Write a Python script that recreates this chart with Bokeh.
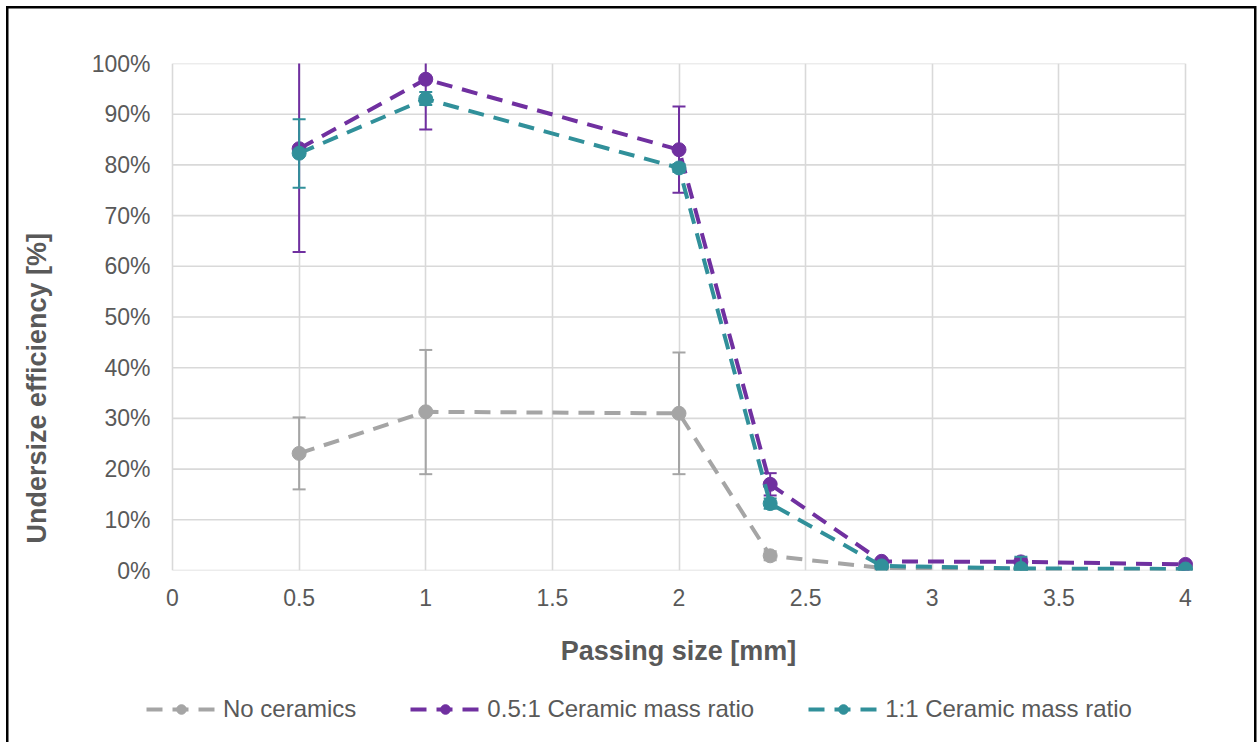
from bokeh.plotting import figure
from bokeh.layouts import column
from bokeh.models import (Legend, LegendItem, FixedTicker, PrintfTickFormatter,
                          Range1d)
from bokeh.embed import file_html
from bokeh.resources import INLINE

# Passing sizes [mm]
sizes = [0.5, 1, 2, 2.36, 2.8, 3.35, 4]

# Undersize efficiency [%] and error-bar limits per series
no_ceramics = [23.1, 31.3, 31.0, 2.9, 0.5, 0.3, 0.3]
no_ceramics_lo = [16.0, 19.0, 19.0, 2.0, 0.3, 0.1, 0.2]
no_ceramics_hi = [30.2, 43.5, 43.0, 3.8, 0.7, 0.5, 0.4]

ratio_05 = [83.2, 96.9, 83.0, 17.0, 1.8, 1.7, 1.2]
ratio_05_lo = [62.8, 87.0, 74.5, 14.8, 1.5, 1.0, 1.0]
ratio_05_hi = [103.6, 106.8, 91.5, 19.2, 2.1, 2.4, 1.4]

ratio_1 = [82.3, 93.0, 79.4, 13.2, 0.9, 0.4, 0.3]
ratio_1_lo = [75.5, 91.8, 78.6, 12.2, 0.6, 0.0, 0.2]
ratio_1_hi = [89.0, 94.4, 80.2, 14.2, 1.2, 2.7, 0.4]

x_ticks = [0, 0.5, 1, 1.5, 2, 2.5, 3, 3.5, 4]
x_tick_labels = ["0", "0.5", "1", "1.5", "2", "2.5", "3", "3.5", "4"]
y_ticks = [0, 10, 20, 30, 40, 50, 60, 70, 80, 90, 100]

series = [
    ("No ceramics", no_ceramics, no_ceramics_lo, no_ceramics_hi, "#A5A5A5"),
    ("0.5:1 Ceramic mass ratio", ratio_05, ratio_05_lo, ratio_05_hi, "#7030A0"),
    ("1:1 Ceramic mass ratio", ratio_1, ratio_1_lo, ratio_1_hi, "#31909A"),
]

FONT = "Liberation Sans"
TEXT = "#595959"
GRID = "#D9D9D9"
LINE_DASH = "16 10"

# thin black frame around the whole chart (left, top and right edges)
frame_css = {
    "background-color": "white",
    "background-image": ("linear-gradient(black, black), "
                         "linear-gradient(black, black), "
                         "linear-gradient(black, black)"),
    "background-size": "2.5px 100%, 1250px 2.5px, 2.5px 100%",
    "background-position": "6px 6px, 6px 6px, 1253.5px 6px",
    "background-repeat": "no-repeat",
}

# The data area spans x = 0..4 over 1013 px; the frame is widened a little on
# both sides (grid lines stay within 0..4) so the legend strip can start left
# of x = 0 and the last tick label keeps room.
PLOT_W = 1013
LEFT_PAD = 26
RIGHT_PAD = 25
px = (x_ticks[-1] - x_ticks[0]) / PLOT_W
BORDER_L = 172 - LEFT_PAD
BORDER_R = 72 - RIGHT_PAD

# ---- main chart ----
p = figure(width=1257, height=690, output_backend="svg", toolbar_location=None,
           x_range=Range1d(x_ticks[0] - LEFT_PAD * px, x_ticks[-1] + RIGHT_PAD * px),
           y_range=Range1d(0, 100),
           min_border_left=BORDER_L, min_border_right=BORDER_R,
           min_border_top=63, min_border_bottom=120)
p.outline_line_color = None
p.background_fill_color = "white"
p.border_fill_alpha = 0

p.xgrid.grid_line_color = GRID
p.xgrid.grid_line_width = 1.6
p.ygrid.visible = False
p.segment(x0=[x_ticks[0]] * len(y_ticks), y0=y_ticks,
          x1=[x_ticks[-1]] * len(y_ticks), y1=y_ticks,
          line_color=GRID, line_width=1.6)

p.xaxis.ticker = FixedTicker(ticks=x_ticks)
p.yaxis.ticker = FixedTicker(ticks=y_ticks)
p.xaxis.major_label_overrides = {t: l for t, l in zip(x_ticks, x_tick_labels)}
p.yaxis.formatter = PrintfTickFormatter(format="%d%%")

for ax in (p.xaxis, p.yaxis):
    ax.axis_line_color = None
    ax.major_tick_line_color = None
    ax.minor_tick_line_color = None
    ax.major_tick_out = 0
    ax.major_tick_in = 0
    ax.major_label_text_font = FONT
    ax.major_label_text_font_size = "23px"
    ax.major_label_text_color = TEXT
    ax.axis_label_text_font = FONT
    ax.axis_label_text_font_size = "27px"
    ax.axis_label_text_font_style = "bold"
    ax.axis_label_text_color = TEXT

p.xaxis.axis_label = "Passing size [mm]"
# the y title sits below the middle of the axis: trailing no-break spaces
# lengthen the centred label at its upper end
p.yaxis.axis_label = "Undersize efficiency [%]" + "\u00a0" * 19
p.xaxis.major_label_standoff = 18
p.yaxis.major_label_standoff = 22 - LEFT_PAD
p.xaxis.axis_label_standoff = 27
p.yaxis.axis_label_standoff = 37

for name, vals, lo, hi, color in series:
    p.line(sizes, vals, line_color=color, line_width=4, line_dash=LINE_DASH)
    p.segment(x0=sizes, y0=lo, x1=sizes, y1=hi, line_color=color, line_width=2)
    p.scatter(sizes, lo, marker="dash", size=13, line_color=color, line_width=2)
    p.scatter(sizes, hi, marker="dash", size=13, line_color=color, line_width=2)
    p.scatter(sizes, vals, marker="circle", size=14,
              fill_color=color, line_color=color)

# ---- legend strip under the chart ----
# its ranges lie away from the data, so only the legend swatches show
leg = figure(width=1257, height=52, output_backend="svg", toolbar_location=None,
             x_range=Range1d(-20, -10), y_range=Range1d(-20, -10),
             x_axis_type=None, y_axis_type=None,
             min_border_left=BORDER_L, min_border_right=BORDER_R,
             min_border_top=0, min_border_bottom=0)
leg.outline_line_color = None
leg.background_fill_alpha = 0
leg.border_fill_alpha = 0
leg.grid.visible = False

items = []
for name, vals, lo, hi, color in series:
    sw_line = leg.line(sizes, vals, line_color=color, line_width=4,
                       line_dash=LINE_DASH)
    sw_dot = leg.scatter(sizes, vals, marker="circle", size=14,
                         fill_color=color, line_color=color)
    items.append(LegendItem(label=name, renderers=[sw_line, sw_dot]))

legend = Legend(items=items, orientation="horizontal", location=(0, 19),
                glyph_width=70, glyph_height=24, label_standoff=7, spacing=54,
                padding=0, margin=0, border_line_color=None,
                background_fill_alpha=0,
                label_text_font=FONT, label_text_font_size="24px",
                label_text_color=TEXT)
leg.add_layout(legend)

layout = column(p, leg, spacing=0, styles=frame_css)

open("out.html", "w").write(file_html(layout, INLINE))
